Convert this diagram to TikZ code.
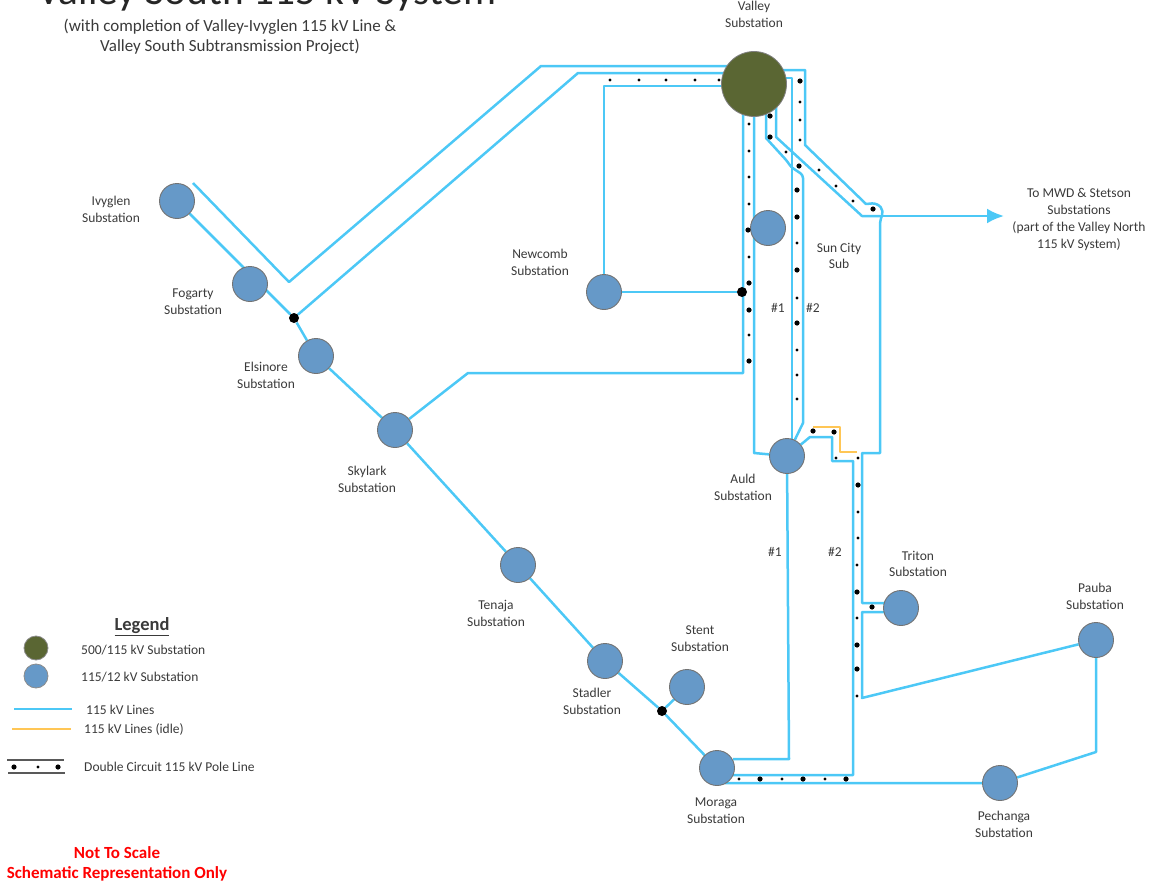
\documentclass[tikz,border=0pt]{standalone}
\usepackage{fontspec}
\setmainfont{Carlito}
\usetikzlibrary{arrows.meta,backgrounds}
\definecolor{linec}{HTML}{4CC8F6}
\definecolor{idlec}{HTML}{FFC655}
\definecolor{subc}{HTML}{6699C8}
\definecolor{olivec}{HTML}{5A6633}
\definecolor{txtc}{HTML}{3A3A3A}
\tikzset{
  subst/.style={circle,draw=black!55,line width=0.9pt,fill=subc,minimum size=35pt,inner sep=0pt},
  bigsub/.style={circle,draw=black!50,line width=0.8pt,fill=olivec,minimum size=65pt,inner sep=0pt},
  legsub/.style={circle,draw=black!45,line width=0.8pt,minimum size=24pt,inner sep=0pt},
  junction/.style={circle,fill=black,minimum size=10pt,inner sep=0pt},
  lbl/.style={text=txtc,align=center,inner sep=0pt,font=\fontsize{13.5}{16.8}\selectfont},
  lleft/.style={lbl,anchor=west},
  wire/.style={draw=linec,line width=2.5pt,line join=round},
  idle/.style={draw=idlec,line width=2.5pt,line join=round},
  pole/.style={draw=black!65,line width=1.2pt},
}
\newcommand{\smalldots}[1]{\foreach \p in {#1} \fill[black] \p circle (1.7pt);}
\newcommand{\bigdots}[1]{\foreach \p in {#1} \fill[black] \p circle (2.6pt);}
\begin{document}
\begin{tikzpicture}[x=1pt,y=-1pt]
\useasboundingbox (0,0) rectangle (1152,886);
\clip (0,0) rectangle (1152,886);
% substations
\node[bigsub] (valley) at (754,84) {};
\node[subst] (ivyglen) at (177,201) {};
\node[subst] (fogarty) at (250,284) {};
\node[subst] (elsinore) at (316,356) {};
\node[subst] (skylark) at (395,430) {};
\node[subst] (tenaja) at (518,565) {};
\node[subst] (stadler) at (605,661) {};
\node[subst] (stent) at (687,687) {};
\node[subst] (moraga) at (717,768) {};
\node[subst] (newcomb) at (604,292) {};
\node[subst] (suncity) at (768,228) {};
\node[subst] (auld) at (787,456) {};
\node[subst] (triton) at (901,608) {};
\node[subst] (pauba) at (1096,640) {};
\node[subst] (pechanga) at (1000,783) {};
\node[junction] (j1) at (294,318) {};
\node[junction] (j2) at (662,711) {};
\node[junction] (j3) at (742,292) {};
\coordinate (ivyend) at (193,183);
\coordinate (arrowend) at (1004,216);
\begin{scope}[on background layer]
  % Ivyglen - Valley pair
  \draw[wire] (ivyend) -- (289,282) -- (541,66) -- (541,66 -| valley);
  \draw[wire] (ivyglen) -- (j1) -- (578,73) -- (578,73 -| valley);
  % main chain
  \draw[wire] (j1) -- (elsinore) -- (skylark) -- (tenaja) -- (stadler) -- (j2) -- (moraga);
  \draw[wire] (stent) -- (j2);
  % Newcomb
  \draw[wire] (newcomb) -- (604,86) -- (604,86 -| valley);
  \draw[wire] (newcomb) -- (j3);
  % Skylark - Valley
  \draw[wire] (skylark) -- (468,373) -- (743,373) -- (743,100);
  \draw[wire] (754,90) -- (754,453) -- (auld);
  % Valley to MWD
  \draw[wire] (776,100) -- (776,137) -- (862,216) -- (880,216);
  \draw[wire,-{Latex[length=17pt,width=15pt]}] (880,216) -- (arrowend);
  % Valley outer
  \draw[wire] (valley.center |- 0,70) -- (805,70) -- (805,145) -- (866,204) [rounded corners=5pt] -- (877,203) -- (884,211) -- (880,220) [sharp corners] -- (880,453) -- (862,453) -- (862,603) -- (862,603 -| triton);
  \draw[wire] (862,612 -| triton) -- (862,612) -- (862,698) -- (pauba) -- (1096,752) -- (pechanga) -- (725,783);
  % inner pair to Auld
  \draw[wire] (766,100) -- (766,138) [rounded corners=3pt] -- (787,161) -- (791,167) -- (803,175) [sharp corners] -- (803,423) -- (auld);
  \draw[wire] (valley.center |- 0,78) -- (792,78) -- (792,440);
  % Auld to Moraga lines
  \draw[wire] (auld) -- (789,759) -- (733,759);
  \draw[wire] (auld) -- (810,437) -- (832,437) -- (832,461) -- (853,461) -- (853,775) -- (733,775);
  % idle
  \draw[idle] (813,427) -- (840,427) -- (840,452) -- (857,452);
\end{scope}
% pole dots
\smalldots{(610,80),(639,80),(666,80),(695,80),(719,80),(749,124),(749,151),(749,177),(749,204),(749,257),(749,335),(819,170),(836,186),(853,201),(786,152),(797,243),(797,298),(797,350),(797,375),(797,399),(800,102),(800,120),(800,140),(836,458),(858,458),(858,512),(858,538),(857,565),(857,618),(857,696),(739,779),(782,779),(825,779)}
\bigdots{(748,230),(749,283),(749,310),(749,361),(770,116),(770,137),(799,166),(797,190),(797,217),(797,270),(797,323),(800,81),(873,209),(813,431),(834,432),(858,485),(857,592),(857,645),(857,669),(872,607),(760,779),(803,779),(846,779)}
% title
\node[text=black!85,anchor=base,inner sep=0pt,font=\fontsize{41.3}{41.3}\selectfont] (title) at (267,5) {Valley South 115 kV System};
\node[lbl,font=\fontsize{17}{20}\selectfont] (subtitle) at (230,37) {(with completion of Valley-Ivyglen 115 kV Line \&\\Valley South Subtransmission Project)};
% labels
\node[lbl] (tvalley) at (754,14) {Valley\\Substation};
\node[lbl] (tivy) at (111,209) {Ivyglen\\Substation};
\node[lbl] (tfog) at (193,302) {Fogarty\\Substation};
\node[lbl] (tels) at (266,375) {Elsinore\\Substation};
\node[lbl] (tnew) at (540,262) {Newcomb\\Substation};
\node[lbl] (tsky) at (367,479) {Skylark\\Substation};
\node[lbl] (tten) at (496,613) {Tenaja\\Substation};
\node[lbl] (tste) at (700,638.5) {Stent\\Substation};
\node[lbl] (tsta) at (592,701) {Stadler\\Substation};
\node[lbl] (taul) at (743,487) {Auld\\Substation};
\node[lbl] (ttri) at (918,564) {Triton\\Substation};
\node[lbl] (tpau) at (1095,596.5) {Pauba\\Substation};
\node[lbl] (tmor) at (716,810.5) {Moraga\\Substation};
\node[lbl] (tpec) at (1004,824) {Pechanga\\Substation};
\node[lbl] (tsun) at (839,256) {Sun City\\Sub};
\node[lbl] (tmwd) at (1079,219.5) {To MWD \& Stetson\\Substations\\(part of the Valley North\\115 kV System)};
\node[lbl] (n1a) at (778,307.5) {\#1};
\node[lbl] (n2a) at (813,307.5) {\#2};
\node[lbl] (n1b) at (775,551.5) {\#1};
\node[lbl] (n2b) at (835,551.5) {\#2};
% legend
\node[lbl,font=\fontsize{18.5}{18.5}\selectfont\bfseries] (legend) at (142,627) {\underline{Legend}};
\node[legsub,fill=olivec] (leg1) at (36,648) {};
\node[legsub,fill=subc] (leg2) at (36,676) {};
\node[lleft] (lt1) at (81,650) {500/115 kV Substation};
\node[lleft] (lt2) at (81,677) {115/12 kV Substation};
\coordinate (la) at (14,709); \coordinate (lb) at (72,709);
\coordinate (lc) at (12,729); \coordinate (ld) at (71,729);
\coordinate (le) at (7,760); \coordinate (lf) at (64,760);
\coordinate (lg) at (8,773); \coordinate (lh) at (65,773);
\draw[wire] (la) -- (lb);
\draw[idle] (lc) -- (ld);
\draw[pole] (le) -- (lf);
\draw[pole] (lg) -- (lh);
\bigdots{(14,767),(58,767)}
\smalldots{(38,767)}
\node[lleft] (lt3) at (86,710) {115 kV Lines};
\node[lleft] (lt4) at (84,729) {115 kV Lines (idle)};
\node[lleft] (lt5) at (84,767) {Double Circuit 115 kV Pole Line};
% note
\node[lbl,text=red,font=\fontsize{17}{20}\selectfont\bfseries] (note) at (117,864) {Not To Scale\\Schematic Representation Only};
\end{tikzpicture}
\end{document}
